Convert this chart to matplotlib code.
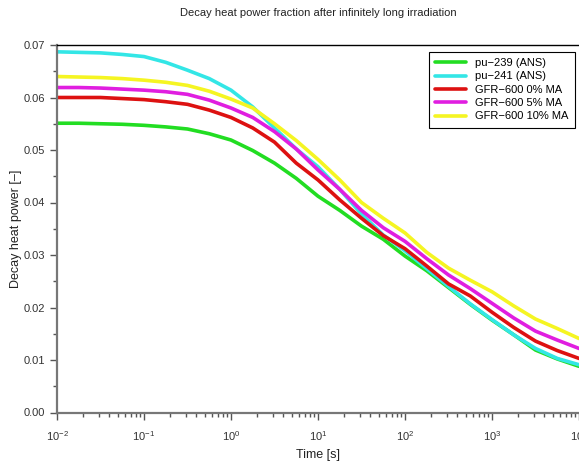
import matplotlib
matplotlib.use("Agg")
import matplotlib.pyplot as plt
from matplotlib.ticker import MultipleLocator, LogLocator, NullFormatter

plt.rcParams["font.family"] = ["Liberation Sans", "DejaVu Sans"]
plt.rcParams["mathtext.default"] = "regular"

# time points, quarter-decade steps (s)
time_s = [1e-2, 10**-1.75, 10**-1.5, 10**-1.25, 1e-1, 10**-0.75, 10**-0.5, 10**-0.25,
          1e0, 10**0.25, 10**0.5, 10**0.75, 1e1, 10**1.25, 10**1.5, 10**1.75,
          1e2, 10**2.25, 10**2.5, 10**2.75, 1e3, 10**3.25, 10**3.5, 10**3.75, 1e4]

pu239 = [0.0551, 0.0551, 0.0550, 0.0549, 0.0547, 0.0544, 0.0540, 0.0531,
         0.0519, 0.0499, 0.0475, 0.0446, 0.0412, 0.0385, 0.0355, 0.0330,
         0.0298, 0.0270, 0.0238, 0.0206, 0.0176, 0.0148, 0.0119, 0.0102, 0.0088]
pu241 = [0.0687, 0.0686, 0.0685, 0.0682, 0.0678, 0.0667, 0.0652, 0.0636,
         0.0614, 0.0582, 0.0542, 0.0502, 0.0468, 0.0425, 0.0378, 0.0338,
         0.0308, 0.0274, 0.0240, 0.0207, 0.0177, 0.0148, 0.0122, 0.0103, 0.0091]
gfr_0ma = [0.0600, 0.0600, 0.0600, 0.0598, 0.0596, 0.0592, 0.0587, 0.0576,
           0.0562, 0.0542, 0.0515, 0.0475, 0.0443, 0.0405, 0.0370, 0.0337,
           0.0312, 0.0279, 0.0245, 0.0222, 0.0191, 0.0162, 0.0136, 0.0118, 0.0103]
gfr_5ma = [0.0619, 0.0619, 0.0618, 0.0616, 0.0614, 0.0611, 0.0606, 0.0595,
           0.0580, 0.0562, 0.0535, 0.0502, 0.0462, 0.0425, 0.0385, 0.0352,
           0.0326, 0.0293, 0.0262, 0.0236, 0.0208, 0.0180, 0.0155, 0.0138, 0.0122]
gfr_10ma = [0.0640, 0.0639, 0.0638, 0.0636, 0.0633, 0.0629, 0.0623, 0.0612,
            0.0597, 0.0580, 0.0550, 0.0518, 0.0482, 0.0443, 0.0400, 0.0370,
            0.0342, 0.0305, 0.0275, 0.0252, 0.0230, 0.0203, 0.0178, 0.0160, 0.0141]

series = [
    ("pu\u2212239 (ANS)", pu239, "#22dd22"),
    ("pu\u2212241 (ANS)", pu241, "#33e6e6"),
    ("GFR\u2212600 0% MA", gfr_0ma, "#dd1111"),
    ("GFR\u2212600 5% MA", gfr_5ma, "#e01ee0"),
    ("GFR\u2212600 10% MA", gfr_10ma, "#f5f522"),
]

fig = plt.figure(figsize=(5.79, 4.70), dpi=100)
ax = fig.add_axes([57 / 579, 1 - 412.5 / 470, 522 / 579, 367.5 / 470])

for label, vals, col in series:
    ax.plot(time_s, vals, color=col, linewidth=2.6, label=label,
            solid_capstyle="round", solid_joinstyle="round")

ax.set_xscale("log")
ax.set_xlim(1e-2, 1e4)
ax.set_ylim(0, 0.07)
ax.yaxis.set_major_locator(MultipleLocator(0.01))
ax.yaxis.set_minor_locator(MultipleLocator(0.005))
ax.yaxis.set_major_formatter(plt.FormatStrFormatter("%.2f"))
ax.xaxis.set_major_locator(LogLocator(base=10, numticks=10))
ax.xaxis.set_minor_locator(LogLocator(base=10, subs=range(2, 10), numticks=20))
ax.xaxis.set_minor_formatter(NullFormatter())

ax.tick_params(which="major", direction="out", length=5, width=1, colors="#555555",
               labelcolor="#333333", labelsize=8)
ax.tick_params(which="minor", direction="out", length=3, width=1, colors="#555555")
ax.tick_params(axis="x", which="major", pad=7)

for side in ("left", "bottom"):
    ax.spines[side].set_color("#777777")
    ax.spines[side].set_linewidth(1.6)
ax.spines["top"].set_color("black")
ax.spines["top"].set_linewidth(1.0)
ax.spines["right"].set_visible(False)

ax.set_title("Decay heat power fraction after infinitely long irradiation",
             fontsize=8, pad=21, color="#222222")
ax.set_xlabel("Time [s]", fontsize=9, color="#222222", labelpad=4)
ax.set_ylabel("Decay heat power [\u2013]", fontsize=9, color="#222222", labelpad=1)

leg = ax.legend(loc="upper right", bbox_to_anchor=(0.992, 0.981), borderaxespad=0,
                fontsize=8, handlelength=2.8, labelspacing=0.3, fancybox=False,
                framealpha=1, edgecolor="black", borderpad=0.55)
leg.get_frame().set_linewidth(0.8)

fig.savefig("out.png", dpi=100)
